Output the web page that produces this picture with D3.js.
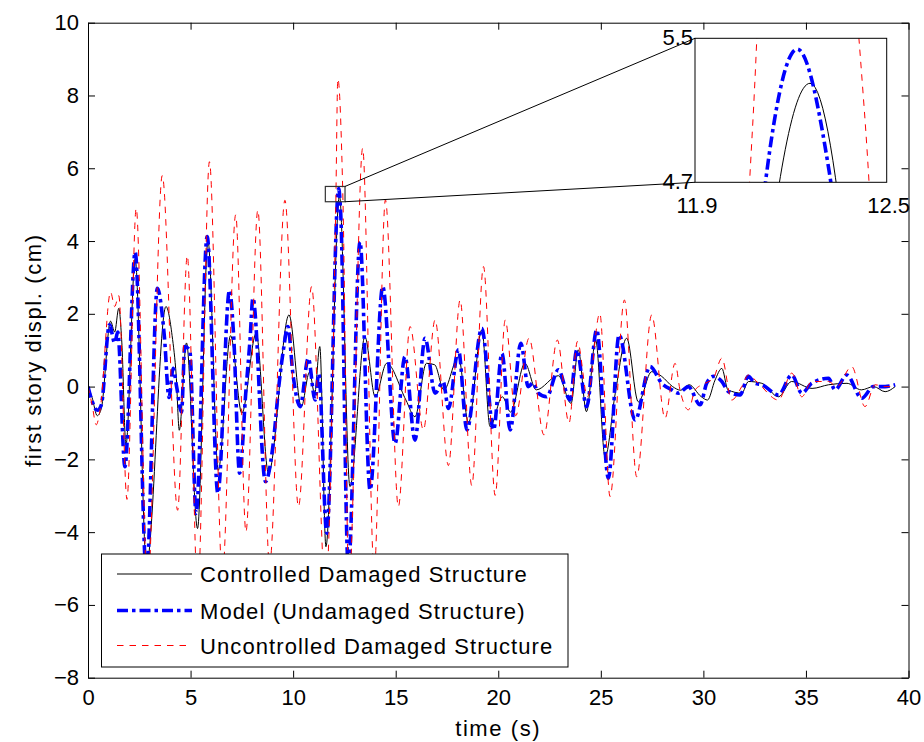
<!DOCTYPE html>
<html>
<head>
<meta charset="utf-8">
<script src="https://cdn.jsdelivr.net/npm/d3@7"></script>
<style>
  body { margin: 0; background: #fff; }
  svg { display: block; font-family: "Liberation Sans", Arial, Helvetica, sans-serif; }
</style>
</head>
<body>
<svg id="chart" width="924" height="742"></svg>
<script>
// Controlled damaged structure: time (s) and first-story displacement (cm)
const ctrlTime = [0, 0.2, 0.45, 0.65, 1.1, 1.3, 1.5, 1.65, 1.85, 2.3, 2.85, 3.8, 4.1, 4.3, 4.45, 4.8,
  5.34, 5.85, 6.35, 6.95, 7.5, 8.2, 8.8, 9.8, 10.4, 10.8, 11.05, 11.3, 11.6, 12.26, 12.77, 13.5,
  14.0, 14.56, 15.5, 15.94, 16.5, 16.9, 17.35, 18.06, 18.55, 19.2, 19.6, 20.2, 20.6, 21.3, 21.85,
  22.93, 23.55, 23.9, 24.3, 24.75, 25.21, 25.7, 26.26, 26.83, 27.48, 27.97, 28.5, 28.9, 29.3,
  29.9, 30.2, 30.57, 30.9, 31.2, 31.87, 32.2, 32.85, 33.66, 34.3, 35.3, 36.1, 37.0, 37.7, 38.3,
  38.86, 39.35];
const ctrlDispl = [0, -0.3, -0.8, -0.6, 1.8, 1.5, 2.15, 1.2, -1.6, 3.5, -4.9, 2.2, 1.4, 0.3, -1.2, 1.2,
  -3.9, 4.0, -2.3, 1.4, -0.73, 1.46, -2.38, 1.97, -0.55, 0.4, -0.2, 1.1, -4.4, 5.25, -2.75, 1.37,
  -0.28, 0.64, -0.37, -0.83, 0.64, 0.6, -0.09, 0.82, -1.0, 1.56, -1.1, -0.28, -0.7, 0.64, -0.09,
  0.3, -0.46, 1.01, -0.69, 1.28, -1.93, -0.2, 1.33, -0.42, 0.41, 0.28, 0.0, -0.1, 0.05,
  -0.28, -0.37, 0.18, 0.5, -0.09, -0.18, 0.14, 0.09, -0.28, 0.14, -0.05, 0.05, 0.09, -0.09, 0.0,
  -0.14, 0.0];

// Model (undamaged structure)
const modelTime = [0, 0.2, 0.45, 0.65, 1.05, 1.3, 1.45, 1.8, 2.3, 2.85, 3.38, 3.72, 3.95, 4.15, 4.32,
  4.56, 4.72, 4.96, 5.27, 5.81, 6.33, 6.9, 7.1, 7.39, 7.7, 7.9, 8.04, 8.65, 9.0, 9.3, 9.55, 9.74,
  10.0, 10.34, 10.74, 11.07, 11.25, 11.64, 12.22, 12.32, 12.69, 13.26, 13.75, 14.37, 14.97, 15.45,
  15.94, 16.43, 16.92, 17.32, 17.57, 18.06, 18.47, 19.2, 19.77, 20.18, 20.58, 21.1, 21.46, 21.7,
  21.95, 22.36, 22.93, 23.5, 23.83, 24.31, 24.8, 25.37, 25.89, 26.67, 27.4, 27.97, 28.46, 28.78,
  29.27, 29.84, 30.16, 30.49, 30.9, 31.22, 31.79, 32.19, 32.52, 32.85, 33.66, 34.31, 34.8, 35.28,
  36.1, 36.42, 36.99, 37.72, 38.29, 38.86, 39.35];
const modelDispl = [0, -0.4, -0.65, -0.5, 1.7, 1.2, 1.5, -2.2, 3.7, -5.2, 2.7, 1.4, -0.3, 0.5, 0.0,
  -0.7, 1.1, 1.0, -3.48, 4.12, -2.93, 2.65, 1.4, -2.38, -0.1, 1.3, 2.43, -2.61, -1.7, 0.0, 1.1, 1.65,
  0.3, -0.55, 0.78, -0.37, 0.35, -4.03, 5.44, 4.76, -5.0, 3.98, -2.84, 2.75, -1.56, 0.82,
  -1.47, 1.33, -0.18, 0.13, -0.6, 1.01, -1.19, 1.6, -1.19, 0.91, -1.19, 1.19, 0.0, 0.1,
  -0.18, -0.28, 0.46, -0.37, 1.01, -0.55, 1.56, -2.52, 1.42, -0.92, 0.55, 0.09, -0.09, -0.18,
  0.0, -0.5, 0.09, 0.28, 0.14, -0.14, -0.23, 0.28, 0.09, 0.05, -0.23, 0.32, -0.18, 0.09,
  0.23, -0.09, 0.32, -0.32, 0.0, 0.0, 0.05];

// Uncontrolled damaged structure
const unctrlTime = [0, 0.2, 0.4, 0.6, 1.1, 1.3, 1.5, 1.9, 2.35, 2.9, 3.62, 4.37, 4.84, 5.35, 5.92,
  6.55, 7.2, 7.7, 8.28, 8.85, 9.6, 10.26, 10.9, 11.58, 12.08, 12.18, 12.43, 12.72, 13.39, 13.95,
  14.5, 15.13, 15.7, 16.35, 16.92, 17.57, 18.14, 18.71, 19.28, 19.85, 20.34, 20.85, 21.5, 22.23,
  22.88, 23.45, 23.86, 24.35, 24.95, 25.45, 26.15, 26.75, 27.48, 28.13, 28.62, 28.86, 29.27, 29.6,
  30.08, 30.49, 30.9, 31.38, 31.87, 32.19, 32.68, 33.66, 34.31, 34.8, 35.28, 36.1, 36.5, 37.23,
  37.88, 38.37, 38.86, 39.35];
const unctrlDispl = [0, -0.5, -1.05, -0.6, 2.6, 2.2, 2.5, -3.1, 4.9, -5.6, 5.8, -3.4, 3.6, -5.7, 6.18,
  -5.2, 4.72, -3.99, 4.85, -4.9, 5.12, -3.3, 2.75, -5.6, 5.0, 8.46, 5.1, -5.5, 6.55, -5.1,
  5.13, -3.3, 1.65, -1.19, 1.83, -2.17, 2.38, -2.72, 3.3, -2.99, 1.83, -0.8, 1.33, -1.33,
  1.28, -1.0, 1.24, -0.28, 2.01, -3.02, 2.38, -2.48, 1.97, -0.87, 0.64, -0.09, -0.64, -0.09,
  0.09, 0.23, 0.78, -0.37, 0.0, 0.32, 0.09, -0.37, 0.37, -0.28, 0.14, 0.14, 0.0, 0.55,
  -0.55, 0.05, 0.0, 0.0];

const xTicks = [0, 5, 10, 15, 20, 25, 30, 35, 40];
const yTicks = [-8, -6, -4, -2, 0, 2, 4, 6, 8, 10];
const legendLabels = ["Controlled Damaged Structure", "Model (Undamaged Structure)", "Uncontrolled Damaged Structure"];

// zoomed window shown in the inset, and the marker box drawn around the peak
const zoomTime = [11.9, 12.5];
const zoomDispl = [4.7, 5.5];
const markTime = [11.57, 12.53];
const markDispl = [5.08, 5.5];

const series = [
  { name: legendLabels[0], t: ctrlTime, v: ctrlDispl, color: "#000000", width: 1, dash: null },
  { name: legendLabels[1], t: modelTime, v: modelDispl, color: "#0000ff", width: 3.6, dash: "11,4,3.5,4" },
  { name: legendLabels[2], t: unctrlTime, v: unctrlDispl, color: "#ff0000", width: 1, dash: "6.5,6" }
];

const svg = d3.select("#chart");
const FONT = 22;

const plot = { left: 88, right: 908.5, top: 22.7, bottom: 677.7 };
const x = d3.scaleLinear().domain([0, 40]).range([plot.left, plot.right]);
const y = d3.scaleLinear().domain([-8, 10]).range([plot.bottom, plot.top]);

svg.append("rect").attr("width", 924).attr("height", 742).attr("fill", "#fff");

const defs = svg.append("defs");
defs.append("clipPath").attr("id", "plotClip").append("rect")
  .attr("x", plot.left).attr("y", plot.top)
  .attr("width", plot.right - plot.left).attr("height", plot.bottom - plot.top);

// series traces
function drawTraces(g, xs, ys) {
  series.forEach(s => {
    const pts = s.t.map((t, i) => [t, s.v[i]]);
    const line = d3.line().x(d => xs(d[0])).y(d => ys(d[1])).curve(d3.curveMonotoneX);
    g.append("path")
      .datum(pts)
      .attr("d", line)
      .attr("fill", "none")
      .attr("stroke", s.color)
      .attr("stroke-width", s.width)
      .attr("stroke-dasharray", s.dash)
      .attr("stroke-linejoin", "round");
  });
}

drawTraces(svg.append("g").attr("clip-path", "url(#plotClip)"), x, y);

// axes: ticks point inwards on all four sides
function styleAxis(g) {
  g.selectAll("path.domain").attr("stroke", "#000").attr("stroke-width", 1);
  g.selectAll(".tick line").attr("stroke", "#000").attr("stroke-width", 1);
  g.selectAll("text").attr("font-size", FONT).attr("fill", "#000")
    .attr("font-family", "'Liberation Sans', Arial, Helvetica, sans-serif");
}

svg.append("g").attr("transform", `translate(0,${plot.bottom})`)
  .call(d3.axisBottom(x).tickValues(xTicks).tickSize(-7).tickSizeOuter(0).tickPadding(12).tickFormat(d3.format("d")))
  .call(styleAxis);
svg.append("g").attr("transform", `translate(0,${plot.top})`)
  .call(d3.axisTop(x).tickValues(xTicks).tickSize(-7).tickSizeOuter(0).tickFormat(""))
  .call(styleAxis);
svg.append("g").attr("transform", `translate(${plot.left},0)`)
  .call(d3.axisLeft(y).tickValues(yTicks).tickSize(-7).tickSizeOuter(0).tickPadding(9).tickFormat(d3.format("d")))
  .call(styleAxis);
svg.append("g").attr("transform", `translate(${plot.right},0)`)
  .call(d3.axisRight(y).tickValues(yTicks).tickSize(-7).tickSizeOuter(0).tickFormat(""))
  .call(styleAxis);

// axis titles
svg.append("text")
  .attr("x", (plot.left + plot.right) / 2).attr("y", 736)
  .attr("text-anchor", "middle").attr("font-size", FONT).attr("letter-spacing", "1.6px")
  .text("time (s)");
svg.append("text")
  .attr("transform", `translate(41,${(plot.top + plot.bottom) / 2}) rotate(-90)`)
  .attr("text-anchor", "middle").attr("font-size", FONT).attr("letter-spacing", "1.6px")
  .text("first story displ. (cm)");

// legend
const lg = svg.append("g");
lg.append("rect").attr("x", 101.5).attr("y", 554).attr("width", 466.5).attr("height", 113)
  .attr("fill", "#fff").attr("stroke", "#000").attr("stroke-width", 1);
const rowY = [574, 610.5, 645.5];
series.forEach((s, i) => {
  lg.append("line").attr("x1", 117).attr("x2", 192).attr("y1", rowY[i]).attr("y2", rowY[i])
    .attr("stroke", s.color).attr("stroke-width", s.width).attr("stroke-dasharray", s.dash);
  lg.append("text").attr("x", 200).attr("y", rowY[i] + 8)
    .attr("font-size", FONT).attr("letter-spacing", "1.1px").text(s.name);
});

// marker box on the main peak and the connectors to the inset
const inset = { left: 695, right: 886.7, top: 38.3, bottom: 182.3 };
svg.append("rect")
  .attr("x", x(markTime[0])).attr("y", y(markDispl[1]))
  .attr("width", x(markTime[1]) - x(markTime[0])).attr("height", y(markDispl[0]) - y(markDispl[1]))
  .attr("fill", "none").attr("stroke", "#333").attr("stroke-width", 1.2);
svg.append("line")
  .attr("x1", x(markTime[1])).attr("y1", y(markDispl[1]))
  .attr("x2", inset.left).attr("y2", inset.top)
  .attr("stroke", "#000").attr("stroke-width", 1);
svg.append("line")
  .attr("x1", x(markTime[1])).attr("y1", y(markDispl[0]))
  .attr("x2", inset.left).attr("y2", inset.bottom)
  .attr("stroke", "#000").attr("stroke-width", 1);

// inset: same traces over the zoomed window
const xi = d3.scaleLinear().domain(zoomTime).range([inset.left, inset.right]);
const yi = d3.scaleLinear().domain(zoomDispl).range([inset.bottom, inset.top]);
defs.append("clipPath").attr("id", "insetClip").append("rect")
  .attr("x", inset.left).attr("y", inset.top)
  .attr("width", inset.right - inset.left).attr("height", inset.bottom - inset.top);
svg.append("rect")
  .attr("x", inset.left).attr("y", inset.top)
  .attr("width", inset.right - inset.left).attr("height", inset.bottom - inset.top)
  .attr("fill", "#fff");
drawTraces(svg.append("g").attr("clip-path", "url(#insetClip)"), xi, yi);
svg.append("rect")
  .attr("x", inset.left).attr("y", inset.top)
  .attr("width", inset.right - inset.left).attr("height", inset.bottom - inset.top)
  .attr("fill", "none").attr("stroke", "#000").attr("stroke-width", 1);

zoomDispl.forEach(v => {
  svg.append("text").attr("x", inset.left - 2).attr("y", yi(v) - 1.5).attr("dy", "0.35em")
    .attr("text-anchor", "end").attr("font-size", FONT).text(d3.format(".1f")(v));
});
zoomTime.forEach(t => {
  svg.append("text").attr("x", xi(t) + 2).attr("y", inset.bottom + 31)
    .attr("text-anchor", "middle").attr("font-size", FONT).text(d3.format(".1f")(t));
});
</script>
</body>
</html>
